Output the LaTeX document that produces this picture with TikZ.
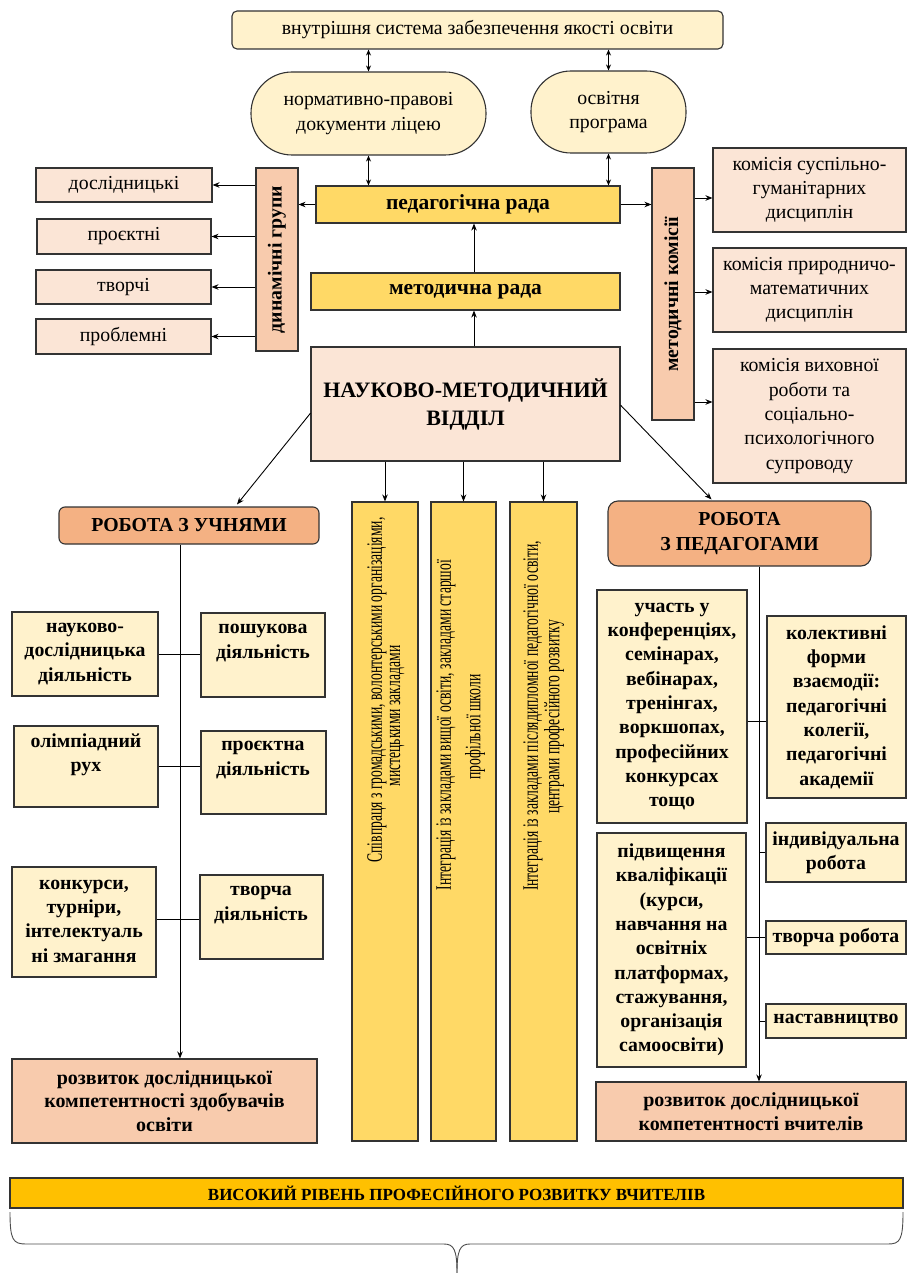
\documentclass[tikz,border=0pt]{standalone}
\usepackage{fontspec}
\setmainfont{Liberation Serif}
\newfontfamily\narrowfont[FakeStretch=0.62]{Liberation Serif}
\usetikzlibrary{arrows.meta,calc}
\definecolor{cream}{HTML}{FFF2CC}
\definecolor{gold}{HTML}{FFD966}
\definecolor{peachlt}{HTML}{FBE5D6}
\definecolor{peach}{HTML}{F8CBAD}
\definecolor{orangebox}{HTML}{F4B183}
\definecolor{barcol}{HTML}{FFC000}
\newcommand{\rbox}[7]{\node[#6, minimum width={(#4)-(#2)}, minimum height={(#5)-(#3)}] (#1) at ({((#2)+(#4))/2},{((#3)+(#5))/2}) {#7};}
\begin{document}
\begin{tikzpicture}[x=1pt,y=-1pt,
  bx/.style={draw=black!80, line width=1.1pt, fill=#1, inner sep=0pt, align=center, font=\fontsize{19.8}{24.3}\selectfont},
  bbx/.style={bx=#1, font=\fontsize{19.8}{24.3}\selectfont\bfseries},
  txt/.style={align=center, inner sep=0pt, font=\fontsize{19.8}{24.3}\selectfont},
  btxt/.style={txt, font=\fontsize{19.8}{24.3}\selectfont\bfseries},
  coltxt/.style={inner sep=0pt, rotate=90, font=\narrowfont\fontsize{22}{22}\selectfont},
  arr/.style={-{Stealth[length=7pt,width=5.5pt]}, line width=0.9pt},
  dbl/.style={{Stealth[length=6pt,width=5pt]}-{Stealth[length=6pt,width=5pt]}, line width=0.9pt},
  ln/.style={line width=0.9pt}]
\useasboundingbox (0,0) rectangle (908,1273);

% top part
\rbox{top}{232}{11}{723}{49}{bx=cream, rounded corners=5pt}{внутрішня система забезпечення якості освіти}
\rbox{e1}{251}{72}{486}{155}{bx=cream, rounded corners=41pt}{нормативно-правові\\документи ліцею}
\rbox{e2}{531}{71}{686}{153}{bx=cream, rounded corners=40pt}{освітня\\програма}
\rbox{pr}{316}{186}{620}{223}{bbx=gold, font=\fontsize{21.5}{24}\selectfont\bfseries}{педагогічна рада}
\rbox{mr}{311}{273}{620}{310}{bbx=gold, font=\fontsize{21.5}{24}\selectfont\bfseries}{методична рада}
\rbox{nmv}{311}{347}{620}{461}{bbx=peachlt, font=\fontsize{22}{28}\selectfont\bfseries}{НАУКОВО-МЕТОДИЧНИЙ\\ВІДДІЛ}

% dynamic groups
\rbox{dyn}{256}{168}{298}{351}{bx=peach}{}
\node[btxt, rotate=90] (dynt) at (dyn.center) {динамічні групи};
\rbox{dg1}{36}{168}{212}{202}{bx=peachlt}{дослідницькі}
\rbox{dg2}{37}{219}{211}{254}{bx=peachlt}{проєктні}
\rbox{dg3}{36}{270}{211}{304}{bx=peachlt}{творчі}
\rbox{dg4}{36}{319}{211}{354}{bx=peachlt}{проблемні}

% methodical commissions
\rbox{mk}{652}{168}{694}{420}{bx=peach}{}
\node[btxt, rotate=90] (mkt) at (mk.center) {методичні комісії};
\rbox{k1}{713}{148}{906}{232}{bx=peachlt}{комісія суспільно-\\гуманітарних\\дисциплін}
\rbox{k2}{713}{248}{906}{332}{bx=peachlt}{комісія природничо-\\математичних\\дисциплін}
\rbox{k3}{713}{349}{906}{483}{bx=peachlt}{комісія виховної\\роботи та\\соціально-\\психологічного\\супроводу}

% work branches
\rbox{robu}{59}{507}{319}{544}{bbx=orangebox, rounded corners=6pt}{РОБОТА З УЧНЯМИ}
\rbox{robp}{608}{501}{871}{566}{bbx=orangebox, rounded corners=10pt}{РОБОТА\\З ПЕДАГОГАМИ}

% columns
\rbox{c1}{352}{502}{418}{1141}{bx=gold}{}
\rbox{c2}{431}{502}{496}{1141}{bx=gold}{}
\rbox{c3}{510}{502}{577}{1141}{bx=gold}{}
\node[coltxt] (c1a) at (377,690) {Співпраця з громадськими, волонтерськими організаціями,};
\node[coltxt] (c1b) at (397,716) {мистецькими закладами};
\node[coltxt] (c2a) at (446,725) {Інтеграція із закладами вищої освіти, закладами старшої};
\node[coltxt] (c2b) at (475,727) {профільної школи};
\node[coltxt] (c3a) at (533,716) {Інтеграція із закладами післядипломної педагогічної освіти,};
\node[coltxt] (c3b) at (554,717) {центрами професійного розвитку};

% students
\rbox{s1}{12}{612}{158}{696}{bbx=cream}{}
\rbox{s2}{201}{613}{325}{697}{bbx=cream}{}
\rbox{s3}{14}{726}{158}{807}{bbx=cream}{}
\rbox{s4}{201}{731}{326}{814}{bbx=cream}{}
\rbox{s5}{12}{867}{156}{977}{bbx=cream}{}
\rbox{s6}{200}{875}{323}{959}{bbx=cream}{}
\node[btxt] (s1t) at (85,654) {науково-\\дослідницька\\діяльність};
\node[btxt] (s2t) at (263,643) {пошукова\\діяльність};
\node[btxt] (s3t) at (86,755) {олімпіадний\\рух};
\node[btxt] (s4t) at (263,760) {проєктна\\діяльність};
\node[btxt] (s5t) at (84,921) {конкурси,\\турніри,\\інтелектуаль\\ні змагання};
\node[btxt] (s6t) at (261,905) {творча\\діяльність};
\rbox{rs}{12}{1059}{317}{1143}{bbx=peach, font=\fontsize{20}{23.5}\selectfont\bfseries}{розвиток дослідницької\\компетентності здобувачів\\освіти}

% teachers
\rbox{t1}{597}{590}{747}{823}{bbx=cream}{участь у\\конференціях,\\семінарах,\\вебінарах,\\тренінгах,\\воркшопах,\\професійних\\конкурсах\\тощо}
\rbox{t2}{767}{616}{906}{798}{bbx=cream}{колективні\\форми\\взаємодії:\\педагогічні\\колегії,\\педагогічні\\академії}
\rbox{t3}{597}{833}{746}{1067}{bbx=cream}{підвищення\\кваліфікації\\(курси,\\навчання на\\освітніх\\платформах,\\стажування,\\організація\\самоосвіти)}
\rbox{t4}{766}{823}{906}{882}{bbx=cream}{індивідуальна\\робота}
\rbox{t5}{766}{921}{906}{954}{bbx=cream}{творча робота}
\rbox{t6}{766}{1004}{906}{1038}{bbx=cream}{наставництво}
\rbox{rv}{596}{1082}{906}{1141}{bbx=peach, font=\fontsize{20}{23.5}\selectfont\bfseries}{розвиток дослідницької\\компетентності вчителів}

% bottom bar
\rbox{bar}{10}{1178}{903}{1208}{bbx=barcol, font=\fontsize{17}{18}\selectfont\bfseries}{ВИСОКИЙ РІВЕНЬ ПРОФЕСІЙНОГО РОЗВИТКУ ВЧИТЕЛІВ}

% connectors
\coordinate (xa) at (474,0);
\coordinate (xu) at (180,0);
\coordinate (xp) at (759,0);
\draw[dbl] (e1.north) -- (e1.north |- top.south);
\draw[dbl] (e2.north) -- (e2.north |- top.south);
\draw[dbl] (e1.south) -- (e1.south |- pr.north);
\draw[dbl] (e2.south) -- (e2.south |- pr.north);
\draw[arr] (nmv.north -| xa) -- (mr.south -| xa);
\draw[arr] (mr.north -| xa) -- (pr.south -| xa);
\draw[arr] (pr.west) -- (pr.west -| dyn.east);
\draw[arr] (pr.east) -- (pr.east -| mk.west);
\foreach \b in {dg1,dg2,dg3,dg4} \draw[arr] (dyn.west |- \b.east) -- (\b.east);
\draw[arr] ([yshift=-8pt]k1.west -| mk.east) -- ([yshift=-8pt]k1.west);
\draw[arr] ([yshift=-2pt]k2.west -| mk.east) -- ([yshift=-2pt]k2.west);
\draw[arr] ([yshift=14pt]k3.west -| mk.east) -- ([yshift=14pt]k3.west);
\draw[arr] ($(nmv.north west)!0.58!(nmv.south west)$) -- ([xshift=48pt,yshift=2pt]robu.north);
\draw[arr] ($(nmv.north east)!0.51!(nmv.south east)$) -- ([xshift=-28pt,yshift=1pt]robp.north);
\foreach \c in {c1,c2,c3} \draw[arr] (nmv.south -| \c.north) -- (\c.north);
\draw[arr] (robu.south -| xu) -- (rs.north -| xu);
\draw[ln] (s1.east) -- (s1.east -| s2.west);
\draw[ln] (s3.east) -- (s3.east -| s4.west);
\draw[ln] ([yshift=3pt]s5.east) -- ([yshift=3pt]s5.east -| s6.west);
\draw[arr] (robp.south -| xp) -- (rv.north -| xp);
\draw[ln] ([yshift=-14.5pt]t1.east) -- ([yshift=-14.5pt]t1.east -| t2.west);
\draw[ln] (t5.west) -- (t5.west -| t3.east);
\draw[ln] (t4.west) -- (t4.west -| xp);
\draw[ln] (t6.west) -- (t6.west -| xp);

% brace
\coordinate (bl) at (10,1212);
\coordinate (br) at (903,1212);
\coordinate (bt) at (457,1273);
\draw[black!70, line width=0.9pt] (bl) .. controls (10,1240) and (13,1244) .. (26,1244) -- (444,1244) .. controls (454,1244) and (457,1250) .. (bt);
\draw[black!70, line width=0.9pt] (bt) .. controls (457,1250) and (460,1244) .. (470,1244) -- (888,1244) .. controls (900,1244) and (903,1240) .. (br);
\end{tikzpicture}
\end{document}
